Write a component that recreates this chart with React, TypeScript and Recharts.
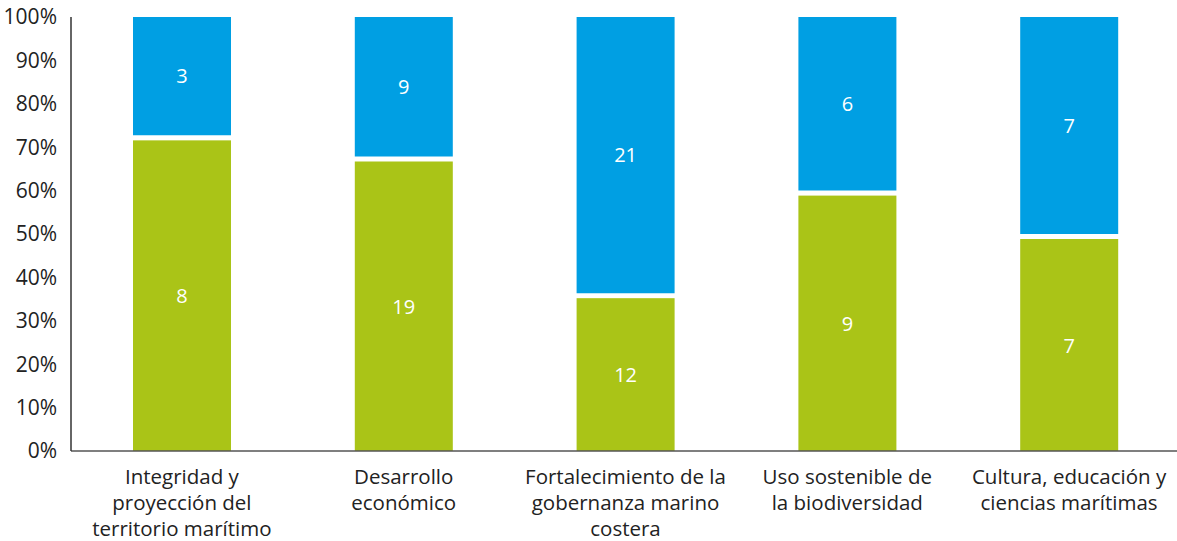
import { BarChart, Bar, XAxis, YAxis, LabelList } from "recharts";

const categories = [
  "Integridad y proyección del territorio marítimo",
  "Desarrollo económico",
  "Fortalecimiento de la gobernanza marino costera",
  "Uso sostenible de la biodiversidad",
  "Cultura, educación y ciencias marítimas",
];

// wrapped lines for the category ticks
const categoryLines = [
  ["Integridad y", "proyección del", "territorio marítimo"],
  ["Desarrollo", "económico"],
  ["Fortalecimiento de la", "gobernanza marino", "costera"],
  ["Uso sostenible de", "la biodiversidad"],
  ["Cultura, educación y", "ciencias marítimas"],
];

const greenValues = [8, 19, 12, 9, 7];
const blueValues = [3, 9, 21, 6, 7];

const yTicks = [0, 0.1, 0.2, 0.3, 0.4, 0.5, 0.6, 0.7, 0.8, 0.9, 1];

const data = categories.map((name, i) => ({
  name,
  green: greenValues[i],
  blue: blueValues[i],
}));

const FONT = "'Open Sans', sans-serif";
const GREEN = "#aac417";
const BLUE = "#009fe3";

// green segment leaves a white gap under the blue one
function GreenShape(props: any) {
  const { x, y, width, height } = props;
  const gap = 5;
  return <rect x={x} y={y + gap} width={width} height={Math.max(height - gap, 0)} fill={GREEN} />;
}

function CategoryTick(props: any) {
  const { x, y, index } = props;
  const lines = categoryLines[index] || [];
  return (
    <text x={x} y={y} textAnchor="middle" fill="#222" fontSize={20.5} fontFamily={FONT}>
      {lines.map((l, i) => (
        <tspan key={i} x={x} dy={i === 0 ? 25 : 26}>
          {l}
        </tspan>
      ))}
    </text>
  );
}

export default function App() {
  return (
    <div style={{ position: "absolute", left: 0, top: 0, width: 1177, height: 541, overflow: "hidden", background: "#fff" }}>
      <BarChart
        width={1180}
        height={541}
        data={data}
        stackOffset="expand"
        margin={{ top: 17, right: 0, bottom: 0, left: 0 }}
      >
        <XAxis
          dataKey="name"
          tickLine={false}
          axisLine={{ stroke: "#555", strokeWidth: 1.5 }}
          tick={<CategoryTick />}
          interval={0}
          height={90}
        />
        <YAxis
          domain={[0, 1]}
          ticks={yTicks}
          tickFormatter={(v: number) => `${Math.round(v * 100)}%`}
          tickLine={false}
          axisLine={{ stroke: "#333", strokeWidth: 1.5 }}
          tick={{ fill: "#222", fontSize: 21, fontFamily: FONT }}
          tickMargin={8}
          width={71}
          interval={0}
        />
        <Bar dataKey="green" stackId="a" fill={GREEN} barSize={98} shape={<GreenShape />} isAnimationActive={false}>
          <LabelList dataKey="green" position="center" fill="#fff" fontSize={20} fontFamily={FONT} dy={3} />
        </Bar>
        <Bar dataKey="blue" stackId="a" fill={BLUE} barSize={98} isAnimationActive={false}>
          <LabelList dataKey="blue" position="center" fill="#fff" fontSize={20} fontFamily={FONT} />
        </Bar>
      </BarChart>
    </div>
  );
}
